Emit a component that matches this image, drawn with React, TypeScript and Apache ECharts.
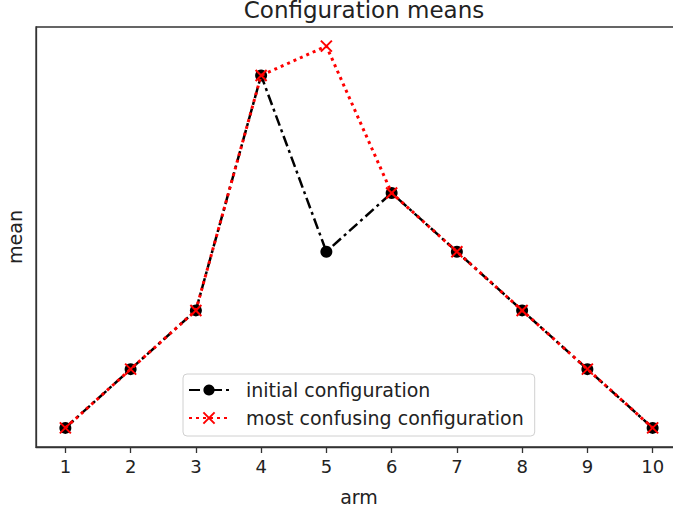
import React, { useEffect, useRef } from "react";
import * as echarts from "echarts";

const arms = [1, 2, 3, 4, 5, 6, 7, 8, 9, 10];
const initialMeans = [0, 1, 2, 6, 3, 4, 3, 2, 1, 0];
const confusingMeans = [0, 1, 2, 6, 6.5, 4, 3, 2, 1, 0];
const seriesNames = ["initial configuration", "most confusing configuration"];
const titleText = "Configuration means";
const xName = "arm";
const yName = "mean";

const FONT = "'DejaVu Sans', sans-serif";

export default function App() {
  const ref = useRef<HTMLDivElement>(null);
  useEffect(() => {
    if (!ref.current) return;
    const chart = echarts.init(ref.current, null, { renderer: "svg" });
    const toPairs = (vals: number[]) => arms.map((a, i) => [a, vals[i]]);
    chart.setOption({
      animation: false,
      backgroundColor: "#ffffff",
      title: {
        text: titleText,
        left: 359,
        textAlign: "center",
        top: -7,
        textStyle: { fontFamily: FONT, fontSize: 23, fontWeight: "normal", color: "#222" },
      },
      grid: {
        left: 36,
        top: 27,
        bottom: 63,
        width: 646,
        outerBoundsMode: "none",
        containLabel: false,
        show: true,
        borderColor: "#333",
        borderWidth: 1.3,
        backgroundColor: "transparent",
      },
      legend: {
        orient: "vertical",
        left: 183,
        top: 374,
        padding: [6, 11, 8, 5],
        itemGap: 8,
        itemWidth: 40,
        itemHeight: 14,
        backgroundColor: "#ffffff",
        borderColor: "#d0d0d0",
        borderWidth: 1,
        borderRadius: 4,
        textStyle: { fontFamily: FONT, fontSize: 19, color: "#222", lineHeight: 20, padding: [0, 0, 0, 12] },
        data: seriesNames,
      },
      xAxis: {
        type: "value",
        min: 0.55,
        max: 10.45,
        name: xName,
        nameLocation: "middle",
        nameGap: 40,
        nameTextStyle: { fontFamily: FONT, fontSize: 19, color: "#222" },
        axisLine: { show: true, onZero: false, lineStyle: { color: "#333", width: 1.3 } },
        axisTick: { show: true, length: 6, lineStyle: { color: "#333", width: 1.3 }, customValues: arms },
        axisLabel: { fontFamily: FONT, fontSize: 18, color: "#222", margin: 10, customValues: arms },
        splitLine: { show: false },
      },
      yAxis: {
        type: "value",
        min: -0.325,
        max: 6.825,
        name: yName,
        nameLocation: "middle",
        nameGap: 12,
        nameTextStyle: { fontFamily: FONT, fontSize: 19, color: "#222" },
        axisLine: { show: true, onZero: false, lineStyle: { color: "#333", width: 1.3 } },
        axisTick: { show: false },
        axisLabel: { show: false },
        splitLine: { show: false },
      },
      series: [
        {
          name: seriesNames[0],
          type: "line",
          data: toPairs(initialMeans),
          symbol: "circle",
          symbolSize: 12,
          showSymbol: true,
          itemStyle: { color: "#000000" },
          lineStyle: { color: "#000000", width: 2.5, type: [11, 4, 3, 4] },
          z: 2,
        },
        {
          name: seriesNames[1],
          type: "line",
          data: toPairs(confusingMeans),
          symbol: "path://M0,0L10,10M0,10L10,0",
          symbolSize: 11,
          showSymbol: true,
          itemStyle: { color: "#ff0000", borderColor: "#ff0000", borderWidth: 2 },
          lineStyle: { color: "#ff0000", width: 3, type: [3, 4] },
          z: 3,
        },
      ],
    });
    return () => chart.dispose();
  }, []);
  return (
    <div
      ref={ref}
      style={{ position: "fixed", left: 0, top: 0, width: 673, height: 510 }}
    />
  );
}
